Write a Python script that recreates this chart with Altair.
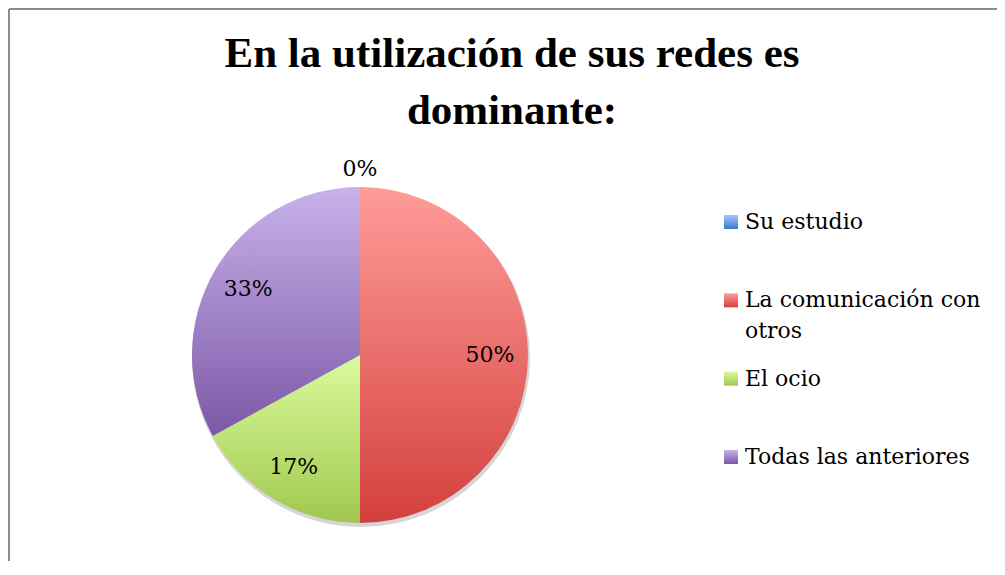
import altair as alt
import pandas as pd

# ---- data ----
categories = ["Su estudio", "La comunicación con otros", "El ocio", "Todas las anteriores"]
values = [0, 50, 17, 33]
order = [0, 1, 2, 3]

# ---- styles ----
grad_top = ["#A6C6FF", "#FF9C99", "#DAFB9C", "#C8B2EA"]
grad_bot = ["#3D79C7", "#D3403D", "#A0C84F", "#7C58A6"]

df = pd.DataFrame({"cat": categories, "value": values, "ord": order})

W, H = 988, 552
CX, CY, R = 351, 346, 168

base = (
    alt.Chart(df)
    .transform_window(cum="sum(value)", sort=[alt.SortField("ord")], frame=[None, 0])
    .transform_calculate(
        start="datum.cum - datum.value",
        mid="datum.cum - datum.value / 2",
        label="datum.value + '%'",
        legend_label="replace(datum.cat, ' otros', '\\notros')",
    )
)

theta_scale = alt.Scale(domain=[0, 100], range=[0, 6.283185307179586])


def grad(i):
    return alt.Gradient(
        gradient="linear",
        x1=0, y1=0, x2=0, y2=1,
        stops=[
            alt.GradientStop(offset=0, color=grad_top[i]),
            alt.GradientStop(offset=1, color=grad_bot[i]),
        ],
    )


layers = []

# soft shadow under the pie
layers.append(
    base.mark_arc(outerRadius=R + 1, color="#8a8a8a", opacity=0.35, strokeWidth=0)
    .encode(
        theta=alt.Theta("start:Q", scale=theta_scale),
        theta2="cum:Q",
        x=alt.value(CX + 1),
        y=alt.value(CY + 3),
    )
)

# pie slices
for i, c in enumerate(categories):
    layers.append(
        base.transform_filter(alt.datum.cat == c)
        .mark_arc(outerRadius=R, color=grad(i), strokeWidth=0)
        .encode(
            theta=alt.Theta("start:Q", scale=theta_scale),
            theta2="cum:Q",
            x=alt.value(CX),
            y=alt.value(CY),
        )
    )

# slice labels
layers.append(
    base.transform_filter(alt.datum.value > 0)
    .mark_text(font="DejaVu Serif", fontSize=22, color="black", radius=130,
               align="center", baseline="middle")
    .encode(theta=alt.Theta("mid:Q", scale=theta_scale), text="label:N",
            x=alt.value(CX), y=alt.value(CY))
)
layers.append(
    base.transform_filter(alt.datum.value == 0)
    .mark_text(font="DejaVu Serif", fontSize=22, color="black", radius=186,
               align="center", baseline="middle")
    .encode(theta=alt.Theta("mid:Q", scale=theta_scale), text="label:N",
            x=alt.value(CX), y=alt.value(CY))
)

# legend
ypos = alt.Y("cat:N", sort=categories, axis=None,
             scale=alt.Scale(type="point", range=[213, 448], padding=0))
for i, c in enumerate(categories):
    layers.append(
        base.transform_filter(alt.datum.cat == c)
        .mark_square(size=196, color=grad(i), filled=True, opacity=1)
        .encode(x=alt.value(722), y=ypos)
    )
layers.append(
    base.mark_text(font="DejaVu Serif", fontSize=22, color="black", align="left",
                   baseline="middle", lineBreak="\n", lineHeight=31)
    .encode(x=alt.value(736), y=ypos, text="legend_label:N")
)

# border (top + left visible part of the chart frame)
border = alt.Chart(df).mark_rule(color="#8C8C8C", strokeWidth=2)
layers.append(border.encode(x=alt.value(0), x2=alt.value(W), y=alt.value(0)))
layers.append(border.encode(x=alt.value(0), y=alt.value(0), y2=alt.value(H)))

chart = (
    alt.layer(*layers)
    .properties(
        width=W,
        height=H,
        title=alt.TitleParams(
            text=["En la utilización de sus redes es", "dominante:"],
            font="Liberation Serif",
            fontSize=43,
            fontWeight="bold",
            color="black",
            anchor="middle",
            frame="group",
            offset=-125,
            dx=9,
            lineHeight=57,
        ),
        autosize=alt.AutoSizeParams(type="none"),
        padding={"left": 1, "top": 1, "right": 0, "bottom": 0},
    )
    .configure_view(stroke=None)
)

chart.save("out.html", embed_options={"renderer": "svg", "actions": False})
